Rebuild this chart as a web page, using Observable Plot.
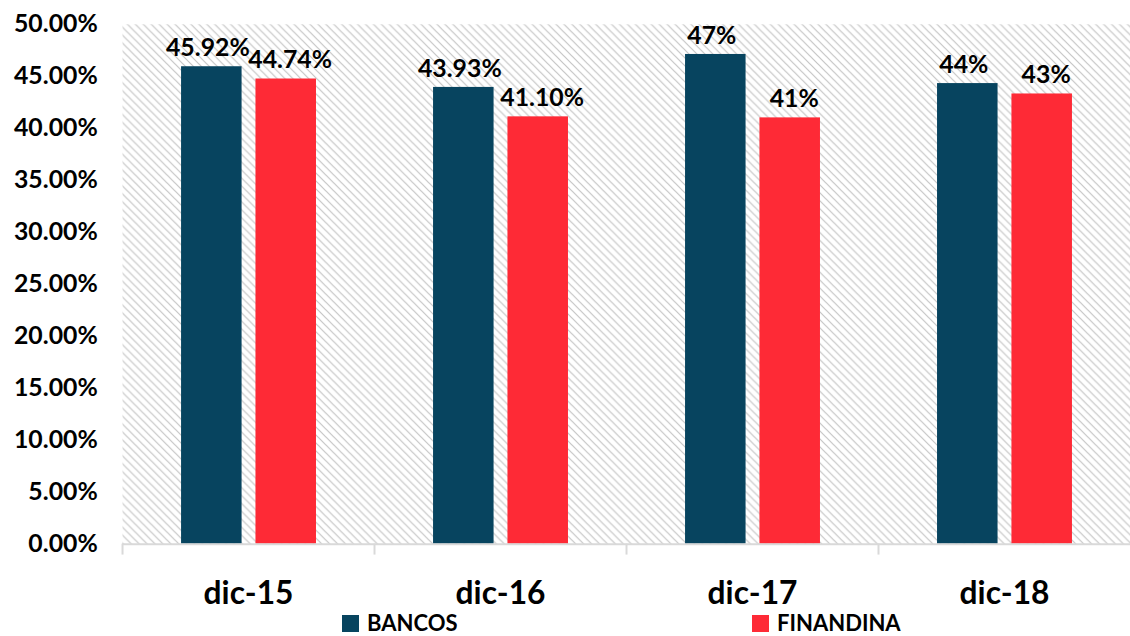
<!DOCTYPE html>
<html>
<head>
<meta charset="utf-8">
<script src="https://cdn.jsdelivr.net/npm/d3@7"></script>
<script src="https://cdn.jsdelivr.net/npm/@observablehq/plot@0.6"></script>
<style>
  html, body { margin: 0; padding: 0; background: #fff; overflow: hidden; }
  #wrap { position: relative; width: 1130px; height: 636px; overflow: hidden; font-family: Lato, "Open Sans", sans-serif; }
  #chart { position: absolute; left: 0; top: 0; }
  .leg { position: absolute; top: 612px; display: flex; align-items: center; font-weight: 700; font-size: 22px; line-height: 22px; color: #000; }
  .leg span.sw { display: inline-block; width: 17px; height: 17px; margin-right: 8px; }
</style>
</head>
<body>
<div id="wrap">
  <div id="chart"></div>
</div>
<script>
const categories = ["dic-15", "dic-16", "dic-17", "dic-18"];
const series = ["BANCOS", "FINANDINA"];
const bancosValues = [0.4592, 0.4393, 0.471, 0.443];
const finandinaValues = [0.4474, 0.4110, 0.410, 0.433];
const bancosLabels = ["45.92%", "43.93%", "47%", "44%"];
const finandinaLabels = ["44.74%", "41.10%", "41%", "43%"];
const colors = ["#07445f", "#fe2a36"];
const yTicks = [0, 0.05, 0.10, 0.15, 0.20, 0.25, 0.30, 0.35, 0.40, 0.45, 0.50];

const rows = [];
categories.forEach((c, i) => {
  rows.push({cat: c, series: "BANCOS", value: bancosValues[i], label: bancosLabels[i]});
  rows.push({cat: c, series: "FINANDINA", value: finandinaValues[i], label: finandinaLabels[i]});
});
const bancos = rows.filter(d => d.series === "BANCOS");
const finandina = rows.filter(d => d.series === "FINANDINA");

const W = 1139;
const bandW = (W - 123) / categories.length;
const barW = 61;
const inset = (bandW - barW) / 2;

function defs() {
  const ns = "http://www.w3.org/2000/svg";
  const d = document.createElementNS(ns, "defs");
  const p = document.createElementNS(ns, "pattern");
  p.setAttribute("id", "hatch");
  p.setAttribute("patternUnits", "userSpaceOnUse");
  p.setAttribute("width", "8");
  p.setAttribute("height", "8");
  const path = document.createElementNS(ns, "path");
  path.setAttribute("d", "M-2,-2 L10,10 M-2,6 L2,10 M6,-2 L10,2");
  path.setAttribute("stroke", "#c4c4c4");
  path.setAttribute("stroke-width", "1.2");
  path.setAttribute("fill", "none");
  p.appendChild(path);
  d.appendChild(p);
  return d;
}

const plot = Plot.plot({
  width: W,
  height: 636,
  marginLeft: 123,
  marginRight: 0,
  marginTop: 24,
  marginBottom: 88,
  style: {fontFamily: "Lato, 'Open Sans', sans-serif", background: "transparent", color: "#000"},
  x: {domain: categories, padding: 0, label: null},
  y: {domain: [0, 0.5], label: null},
  color: {domain: series, range: colors},
  marks: [
    defs,
    Plot.frame({fill: "url(#hatch)", stroke: null}),
    Plot.barY(bancos, {x: "cat", y: "value", fill: "series", insetLeft: inset, insetRight: inset, dx: -37}),
    Plot.barY(finandina, {x: "cat", y: "value", fill: "series", insetLeft: inset, insetRight: inset, dx: 38}),
    Plot.text(bancos, {x: "cat", y: "value", text: "label", dx: -41, dy: -11, lineAnchor: "bottom", fontSize: 25, fontWeight: 700, fill: "#000"}),
    Plot.text(finandina, {x: "cat", y: "value", text: "label", dx: 42, dy: -11, lineAnchor: "bottom", fontSize: 25, fontWeight: 700, fill: "#000"}),
    Plot.ruleY([0], {stroke: "#d9d9d9", strokeWidth: 2}),
    Plot.ruleX(categories, {x: d => d, dx: -bandW / 2, y1: 0, y2: -0.0105, stroke: "#d9d9d9", strokeWidth: 2}),
    Plot.axisY({ticks: yTicks, tickSize: 0, tickPadding: 25, tickFormat: d => (d * 100).toFixed(2) + "%", fontSize: 25, fontWeight: 700, label: null}),
    Plot.axisX({tickSize: 0, tickPadding: 38, fontSize: 32, fontWeight: 700, label: null})
  ]
});
plot.style.fontWeight = "700";
document.getElementById("chart").appendChild(plot);

const wrap = document.getElementById("wrap");
const legPos = [342, 752];
series.forEach((s, i) => {
  const div = document.createElement("div");
  div.className = "leg";
  div.style.left = legPos[i] + "px";
  div.innerHTML = `<span class="sw" style="background:${colors[i]}"></span><span>${s}</span>`;
  wrap.appendChild(div);
});
</script>
</body>
</html>
